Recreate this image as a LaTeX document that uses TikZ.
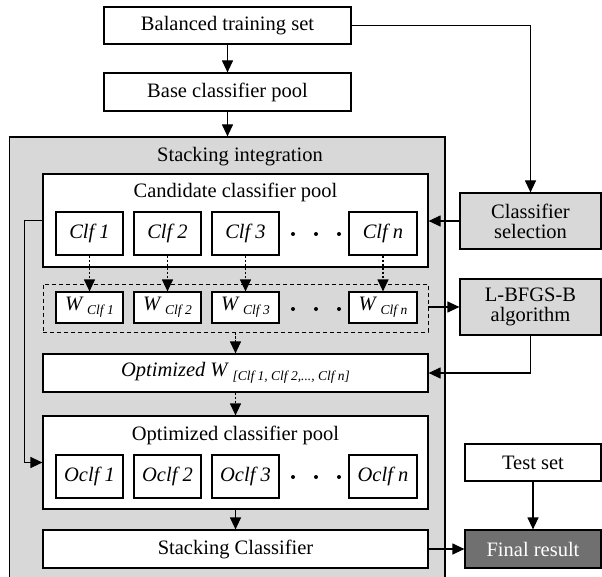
\documentclass[tikz,border=0pt]{standalone}
\usepackage{fontspec}
\setmainfont{Liberation Serif}
\usetikzlibrary{arrows.meta}
\definecolor{stackgray}{RGB}{216,216,216}
\definecolor{finalgray}{RGB}{112,112,112}
\newcommand\wsub[1]{\textit{W}\,\raisebox{-0.45ex}{\fontsize{13.5}{14}\selectfont\itshape #1}}
\begin{document}
\begin{tikzpicture}[x=1pt,y=-1pt,
  font=\fontsize{20.5}{23}\selectfont,
  box/.style={draw, line width=1.2pt, fill=white, inner sep=0pt, align=center},
  gbox/.style={box, fill=stackgray},
  clf/.style={box, minimum width=67pt, minimum height=43pt, font=\fontsize{20.5}{23}\selectfont\itshape},
  wb/.style={box, minimum width=67pt, minimum height=31pt},
  arr/.style={line width=1.2pt, -{Triangle[length=12pt,width=11pt]}},
  darr/.style={arr, dash pattern=on 2.5pt off 1.5pt},
  dotc/.style={circle, fill=black, inner sep=0pt, minimum size=4pt}
]
\useasboundingbox (0,0) rectangle (602,577);
% stacking integration region
\node[gbox, minimum width=435.5pt, minimum height=453pt] (stack) at (227.25,363.5) {};
\node (stitle) at (240,157) {Stacking integration};
% top boxes
\node[box, minimum width=247pt, minimum height=37pt] (bal) at (227.5,25.5) {Balanced training set};
\node[box, minimum width=247pt, minimum height=38pt] (base) at (227.5,92) {Base classifier pool};
% candidate pool
\node[box, minimum width=385pt, minimum height=93pt] (cand) at (235.5,220.5) {};
\node (ctitle) at (235.5,192) {Candidate classifier pool};
\node[clf] (c1) at (89.5,233.5) {Clf 1};
\node[clf] (c2) at (167.5,233.5) {Clf 2};
\node[clf] (c3) at (245.5,233.5) {Clf 3};
\node[clf, minimum width=68pt] (cn) at (383,233.5) {Clf n};
\node[dotc] (cd1) at (293,234) {};
\node[dotc] (cd2) at (316,234) {};
\node[dotc] (cd3) at (339,234) {};
% weights
\node[draw, line width=0.9pt, dash pattern=on 4pt off 3pt, inner sep=0pt, minimum width=385pt, minimum height=48pt] (wbox) at (235.5,308) {};
\node[wb] (w1) at (89.5,307.5) {\wsub{Clf 1}};
\node[wb] (w2) at (167.5,307.5) {\wsub{Clf 2}};
\node[wb] (w3) at (245.5,307.5) {\wsub{Clf 3}};
\node[wb, minimum width=68pt] (wn) at (383,307.5) {\wsub{Clf n}};
\node[dotc] (wd1) at (293,309) {};
\node[dotc] (wd2) at (316,309) {};
\node[dotc] (wd3) at (339,309) {};
% optimized W
\node[box, minimum width=385pt, minimum height=38pt] (optw) at (235.5,373) {\textit{Optimized W}\,\raisebox{-0.45ex}{\fontsize{13.5}{14}\selectfont\itshape [Clf 1, Clf 2,..., Clf n]}};
% optimized pool
\node[box, minimum width=385pt, minimum height=93pt] (opool) at (235.5,462.5) {};
\node (otitle) at (235.5,435) {Optimized classifier pool};
\node[clf] (o1) at (89.5,476.5) {Oclf 1};
\node[clf] (o2) at (167.5,476.5) {Oclf 2};
\node[clf] (o3) at (245.5,476.5) {Oclf 3};
\node[clf, minimum width=68pt] (on) at (383,476.5) {Oclf n};
\node[dotc] (od1) at (293,477) {};
\node[dotc] (od2) at (316,477) {};
\node[dotc] (od3) at (339,477) {};
% stacking classifier
\node[box, minimum width=385pt, minimum height=38pt] (sc) at (235.5,549) {Stacking Classifier};
% right column
\node[gbox, minimum width=141pt, minimum height=56pt] (cs) at (530.5,221) {Classifier\\[-3pt]selection};
\node[gbox, minimum width=141pt, minimum height=56pt] (lb) at (530.5,307) {L-BFGS-B\\[-3pt]algorithm};
\node[box, minimum width=136pt, minimum height=37pt] (test) at (533,462.5) {Test set};
\node[box, fill=finalgray, text=white, minimum width=136pt, minimum height=38pt] (final) at (533,549) {Final result};
% connectors
\draw[arr] (bal) -- (base);
\draw[arr] (base.south) -- (base.south |- stack.north);
\draw[arr] (bal.east) -| (cs.north);
\draw[arr] (cs.west) -- (cand.east |- cs.west);
\foreach \a/\b in {c1/w1,c2/w2,c3/w3,cn/wn} \draw[darr] (\a.south) -- (\b.north);
\draw[arr] (wbox.east |- lb.west) -- (lb.west);
\draw[darr] (wbox.south) -- (optw.north);
\draw[arr] (lb.south) |- (optw.east);
\draw[darr] (optw.south) -- (opool.north);
\draw[arr] (cand.west) -- ++(-18,0) |- (opool.west);
\draw[arr] (opool.south) -- (sc.north);
\draw[arr] (sc.east) -- (final.west);
\draw[arr] (test.south) -- (final.north);
\end{tikzpicture}
\end{document}
